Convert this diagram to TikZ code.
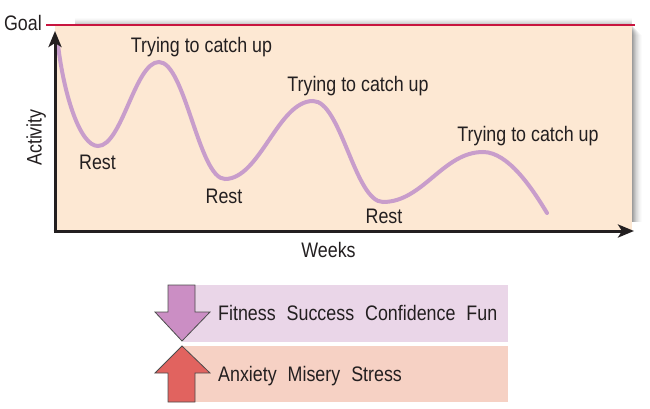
\documentclass[tikz,border=0pt]{standalone}
\usepackage{fontspec}
\setmainfont{Liberation Sans}[FakeStretch=0.85]
\usetikzlibrary{arrows.meta}
\definecolor{beige}{HTML}{FDE8D3}
\definecolor{goalred}{HTML}{C8153F}
\definecolor{curvecol}{HTML}{C89DCB}
\definecolor{bandpurple}{HTML}{EAD6E8}
\definecolor{bandsalmon}{HTML}{F6D1C4}
\definecolor{arrpurple}{HTML}{CB8EC4}
\definecolor{arrred}{HTML}{E1635F}
\definecolor{txt}{HTML}{231F20}
\tikzset{
  lbl/.style={font=\fontsize{21}{23}\selectfont, inner sep=0pt, text=txt},
  axisline/.style={line width=3pt, txt, -{Stealth[length=16pt,width=13pt,inset=4pt]}},
  curveline/.style={line width=4pt, curvecol, line cap=round},
  bigarrow/.style={draw=black!70, line width=0.8pt, line join=miter},
}
\begin{document}
\begin{tikzpicture}[x=1pt,y=1pt]
\useasboundingbox (0,0) rectangle (650,-409);
% shadow
\foreach \i/\o in {1/0.09,2/0.08,3/0.07,4/0.06,5/0.05,6/0.04,7/0.03,8/0.025,9/0.02,10/0.015}{
  \fill[black,opacity=\o] (632,{-25-\i}) rectangle ({632+\i},-222);
}
\foreach \i/\o in {1/0.07,2/0.06,3/0.05,4/0.04,5/0.03,6/0.02,7/0.015}{
  \fill[black,opacity=\o] (75,{-25+\i}) rectangle (632,-25);
}
% panel
\fill[beige] (55,-25) rectangle (632,-231);
\coordinate (origin) at (55,-231);
\coordinate (ytop) at (55,-31);
\coordinate (xend) at (634,-231);
\coordinate (gl) at (46,-25);
\coordinate (gr) at (635,-25);
\draw[goalred, line width=2.6pt] (gl) -- (gr);
% curve
\draw[curveline] (58,-45) .. controls (64,-95) and (80,-146) .. (98,-146)
  .. controls (122,-146) and (135,-62) .. (159,-62)
  .. controls (185,-62) and (199,-179) .. (225,-179)
  .. controls (260,-179) and (278,-101) .. (313,-101)
  .. controls (341,-101) and (355,-202) .. (383,-202)
  .. controls (423,-202) and (443,-152) .. (483,-152)
  .. controls (508,-152) and (532,-188) .. (547,-213);
% axes
\draw[axisline] ([yshift=-1.5pt]origin) -- (ytop);
\draw[axisline] ([xshift=-1.5pt]origin) -- (xend);
% labels
\node[lbl, anchor=base east] (goal) at (42,-31) {Goal};
\node[lbl, rotate=90, anchor=base] (act) at (41.5,-137.5) {Activity};
\node[lbl, anchor=base] (weeks) at (328.5,-257) {Weeks};
\node[lbl, anchor=base] (t1) at (201.5,-53) {Trying to catch up};
\node[lbl, anchor=base] (t2) at (358,-92) {Trying to catch up};
\node[lbl, anchor=base] (t3) at (528,-142) {Trying to catch up};
\node[lbl, anchor=base] (r1) at (97.5,-169) {Rest};
\node[lbl, anchor=base] (r2) at (224,-203) {Rest};
\node[lbl, anchor=base] (r3) at (384,-223) {Rest};
% bottom bands
\fill[bandpurple] (183,-285) rectangle (508,-342);
\fill[bandsalmon] (183,-346) rectangle (508,-402);
\draw[bigarrow, fill=arrpurple] (168,-285) -- (195,-285) -- (195,-312) -- (210,-312) -- (182,-341) -- (155,-312) -- (168,-312) -- cycle;
\draw[bigarrow, fill=arrred] (182,-346) -- (210,-373) -- (195,-373) -- (195,-402) -- (168,-402) -- (168,-373) -- (155,-373) -- cycle;
\node[lbl, anchor=base west] (pos) at (218,-320) {Fitness\hspace{11pt}Success\hspace{11pt}Confidence\hspace{11pt}Fun};
\node[lbl, anchor=base west] (neg) at (218,-381) {Anxiety\hspace{11pt}Misery\hspace{11pt}Stress};
\end{tikzpicture}
\end{document}
